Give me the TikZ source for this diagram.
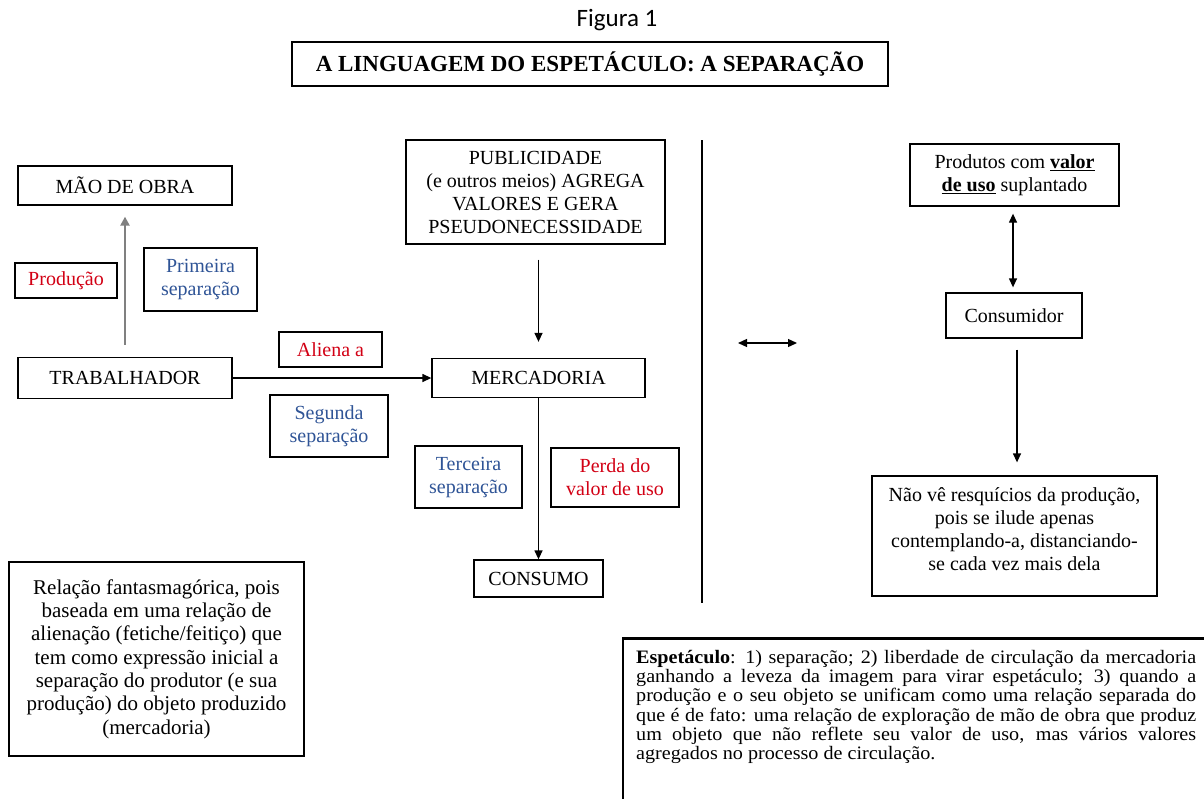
\documentclass[tikz,border=0pt]{standalone}
\usepackage{fontspec}
\setmainfont{Liberation Serif}
\newfontfamily\calib{Carlito}
\newfontfamily\widefont[FakeStretch=1.06]{Liberation Serif}
\usetikzlibrary{arrows.meta}
\definecolor{redt}{RGB}{210,0,20}
\definecolor{bluet}{RGB}{47,84,150}
\definecolor{grayarr}{RGB}{128,128,128}
\begin{document}
\begin{tikzpicture}[x=1pt,y=-1pt,
  box/.style={draw=black, line width=1.3pt, inner sep=0pt, align=center, font=\fontsize{20}{23}\selectfont},
  redbox/.style={box, text=redt},
  bluebox/.style={box, text=bluet},
  tip/.tip={Triangle[length=9pt,width=8pt]},
  arr/.style={line width=1.3pt, -tip},
  darr/.style={line width=1.3pt, tip-tip},
]
\useasboundingbox (0,0) rectangle (1204,798);
\clip (0,0) rectangle (1204,798);

% title
\node[font=\calib\fontsize{25}{28}\selectfont] (fig) at (617,20) {Figura 1};
\node[draw, line width=1.4pt, minimum width=596pt, minimum height=44pt, inner sep=0pt,
      font=\fontsize{23}{26}\selectfont\bfseries] (title) at (590,64)
      {A LINGUAGEM DO ESPETÁCULO: A SEPARAÇÃO};

% left column
\node[box, minimum width=214pt, minimum height=39pt] (mao) at (125,185.5) {MÃO DE OBRA};
\node[box, minimum width=214pt, minimum height=41pt] (trab) at (125,378) {TRABALHADOR};
\node[redbox, minimum width=102pt, minimum height=35pt] (prod) at (66,280.5) {Produção};
\node[bluebox, minimum width=113pt, minimum height=63pt] (prim) at (200.5,279.5) {Primeira\\separação};
\node[redbox, minimum width=103pt, minimum height=35pt] (alien) at (330.5,349.5) {Aliena a};
\node[bluebox, minimum width=118pt, minimum height=62pt] (seg) at (329,426) {Segunda\\separação};

% middle column
\node[box, minimum width=259pt, minimum height=104pt] (pub) at (535.5,192)
  {PUBLICIDADE\\(e outros meios) AGREGA\\VALORES E GERA\\PSEUDONECESSIDADE};
\node[box, minimum width=213pt, minimum height=39pt] (merc) at (538.5,378) {MERCADORIA};
\node[bluebox, minimum width=107pt, minimum height=62pt] (terc) at (468.5,477) {Terceira\\separação};
\node[redbox, minimum width=128pt, minimum height=59pt] (perda) at (615,477.5) {Perda do\\valor de uso};
\node[box, minimum width=129pt, minimum height=37pt] (cons) at (538.5,578.5) {CONSUMO};

% right column
\node[box, minimum width=209pt, minimum height=62pt] (prodt) at (1014.5,175)
  {Produtos com \textbf{\underline{valor}}\\\textbf{\underline{de uso}} suplantado};
\node[box, minimum width=136pt, minimum height=45pt] (consr) at (1014,315.5) {Consumidor};
\node[box, minimum width=285pt, minimum height=120pt] (nao) at (1014.5,536)
  {Não vê resquícios da produção,\\pois se ilude apenas\\contemplando-a, distanciando-\\se cada vez mais dela\\[-9pt]\mbox{}};

% bottom boxes
\node[box, minimum width=295pt, minimum height=194pt, font=\fontsize{21}{23.3}\selectfont] (rel) at (156.5,659)
  {Relação fantasmagórica, pois\\baseada em uma relação de\\alienação (fetiche/feitiço) que\\tem como expressão inicial a\\separação do produtor (e sua\\produção) do objeto produzido\\(mercadoria)};

\draw[line width=1.3pt] (623,638) rectangle (1230,830);
\draw[line width=2.4pt] (623,638.5) -- (1230,638.5);
\node[anchor=north west, inner sep=0pt, text width=560pt, align=justify,
      font=\widefont\fontsize{19}{19.2}\selectfont] (esp) at (636,650)
  {\textbf{Espetáculo}: 1) separação; 2) liberdade de circulação da mercadoria\linebreak
   ganhando a leveza da imagem para virar espetáculo; 3) quando a\linebreak
   produção e o seu objeto se unificam como uma relação separada do\linebreak
   que é de fato: uma relação de exploração de mão de obra que produz\linebreak
   um objeto que não reflete seu valor de uso, mas vários valores\linebreak
   agregados no processo de circulação.};

% separator
\coordinate (sepT) at (702,140);
\coordinate (sepB) at (702,603);
\draw[line width=1.3pt] (sepT) -- (sepB);
\coordinate (hL) at (738,343);
\coordinate (hR) at (797,343);
\draw[darr] (hL) -- (hR);

% connectors
\draw[line width=2.4pt, grayarr, -{Triangle[length=9pt,width=9pt]}, shorten <=12pt, shorten >=11pt] (trab.north) -- (mao.south);
\draw[arr] (trab.east) -- (merc.west);
\draw[arr, shorten <=15pt, shorten >=16pt] (pub.south -| merc.north) -- (merc.north);
\draw[arr] (merc.south) -- (cons.north);
\draw[darr, shorten <=7pt, shorten >=5pt] ([xshift=-1.5pt]prodt.south) -- ([xshift=-1pt]consr.north);
\draw[arr, shorten <=11pt, shorten >=13pt] ([xshift=3pt]consr.south) -- ([xshift=2.5pt]nao.north);
\end{tikzpicture}
\end{document}
